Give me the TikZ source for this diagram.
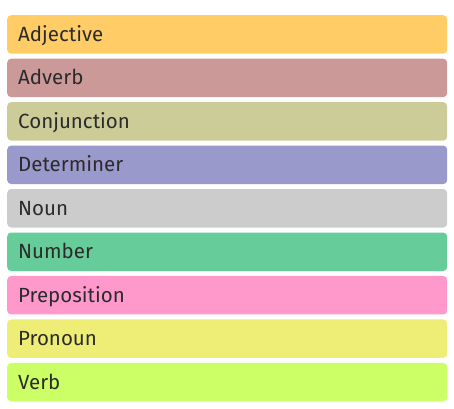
\documentclass[tikz,border=0pt]{standalone}
\usepackage{fontspec}
\setmainfont{Fira Sans}
\definecolor{adjcol}{HTML}{FFCC66}
\definecolor{advcol}{HTML}{CC9999}
\definecolor{conjcol}{HTML}{CCCC99}
\definecolor{detcol}{HTML}{9999CC}
\definecolor{nouncol}{HTML}{CCCCCC}
\definecolor{numcol}{HTML}{66CC99}
\definecolor{prepcol}{HTML}{FF99CC}
\definecolor{proncol}{HTML}{EEEE77}
\definecolor{verbcol}{HTML}{CCFF66}
\definecolor{wordtext}{HTML}{2B2B2B}
\tikzset{wordbox/.style={anchor=north west,rounded corners=4pt,inner xsep=11pt,inner ysep=0pt,
  text width=418pt,minimum height=38.5pt,text height=18pt,text depth=4pt,align=left,
  text=wordtext,font=\fontsize{20.5}{24}\selectfont}}
\begin{document}
\begin{tikzpicture}[x=1pt,y=1pt]
	\useasboundingbox (0,0) rectangle (454,408);
	\foreach \word/\col [count=\i from 0] in {Adjective/adjcol,Adverb/advcol,Conjunction/conjcol,Determiner/detcol,Noun/nouncol,Number/numcol,Preposition/prepcol,Pronoun/proncol,Verb/verbcol}
	\node[wordbox,fill=\col](w\i) at (7,{393-43.46*\i}){\word};
\end{tikzpicture}
\end{document}
